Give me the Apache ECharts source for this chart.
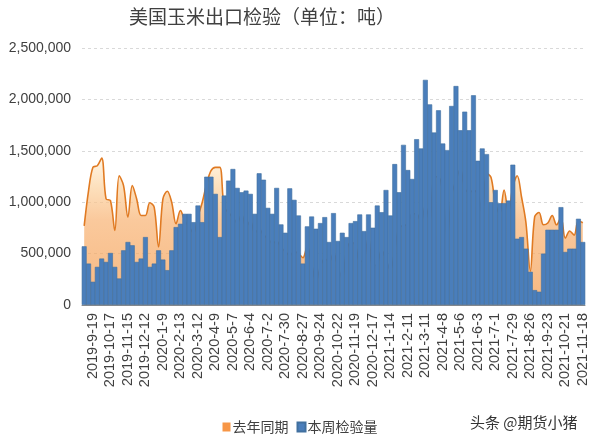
<!DOCTYPE html>
<html>
<head>
<meta charset="utf-8">
<script src="https://cdn.jsdelivr.net/npm/echarts@6/dist/echarts.min.js"></script>
<style>
html,body{margin:0;padding:0;background:#fff;}
#chart{width:600px;height:440px;}
</style>
</head>
<body>
<div id="chart"></div>
<script>
const categories = [
'2019-9-5','2019-9-12','2019-9-19','2019-9-26','2019-10-3','2019-10-10','2019-10-17','2019-10-24','2019-10-31','2019-11-7',
'2019-11-15','2019-11-21','2019-11-28','2019-12-5','2019-12-12','2019-12-19','2019-12-26','2020-1-2','2020-1-9','2020-1-16',
'2020-1-23','2020-1-30','2020-2-13','2020-2-20','2020-2-27','2020-3-5','2020-3-12','2020-3-19','2020-3-26','2020-4-2',
'2020-4-9','2020-4-16','2020-4-23','2020-4-30','2020-5-7','2020-5-14','2020-5-21','2020-5-28','2020-6-4','2020-6-11',
'2020-6-18','2020-6-25','2020-7-2','2020-7-9','2020-7-16','2020-7-23','2020-7-30','2020-8-6','2020-8-13','2020-8-20',
'2020-8-27','2020-9-3','2020-9-10','2020-9-17','2020-9-24','2020-10-1','2020-10-8','2020-10-15','2020-10-22','2020-10-29',
'2020-11-5','2020-11-12','2020-11-19','2020-11-26','2020-12-3','2020-12-10','2020-12-17','2020-12-24','2020-12-31','2021-1-7',
'2021-1-14','2021-1-21','2021-1-28','2021-2-4','2021-2-11','2021-2-18','2021-2-25','2021-3-4','2021-3-11','2021-3-18',
'2021-3-25','2021-4-1','2021-4-8','2021-4-15','2021-4-22','2021-4-29','2021-5-6','2021-5-13','2021-5-20','2021-5-27',
'2021-6-3','2021-6-10','2021-6-17','2021-6-24','2021-7-1','2021-7-8','2021-7-15','2021-7-22','2021-7-29','2021-8-5',
'2021-8-12','2021-8-19','2021-8-26','2021-9-2','2021-9-9','2021-9-16','2021-9-23','2021-9-30','2021-10-7','2021-10-14',
'2021-10-21','2021-10-28','2021-11-4','2021-11-11','2021-11-18'];

// 本周检验量 (tons)
const thisWeek = [
571000,403000,226000,371000,452000,419000,506000,371000,258000,532000,
613000,581000,419000,452000,661000,371000,403000,532000,442000,339000,
532000,758000,790000,887000,887000,806000,968000,806000,1248000,1248000,
1081000,661000,1065000,1210000,1323000,1139000,1097000,1113000,1081000,887000,
1281000,1219000,945000,887000,1139000,784000,703000,1135000,1023000,871000,
403000,765000,861000,742000,797000,855000,613000,894000,623000,703000,
661000,797000,816000,881000,719000,881000,752000,968000,903000,1119000,
871000,1371000,1097000,1558000,1313000,1226000,1613000,1523000,2190000,1952000,
1678000,1894000,1571000,1507000,1936000,2130000,1700000,1881000,1700000,2040000,
1403000,1523000,1468000,1000000,1119000,990000,990000,1016000,1365000,645000,
661000,548000,323000,145000,129000,500000,732000,732000,732000,952000,
516000,548000,548000,839000,613000];

// 去年同期 (tons)
const lastYear = [
770000,1113000,1339000,1355000,1429000,1032000,1016000,726000,1258000,1161000,
855000,1161000,1032000,871000,871000,994000,952000,565000,1032000,1107000,
1000000,790000,919000,820000,760000,700000,860000,1000000,1177000,1306000,
1339000,1339000,950000,900000,850000,800000,880000,760000,820000,700000,
740000,680000,650000,600000,620000,560000,520000,480000,520000,500000,
460000,571000,403000,226000,371000,452000,419000,506000,371000,258000,
532000,613000,581000,419000,452000,661000,371000,403000,532000,442000,
339000,532000,758000,770000,790000,887000,887000,806000,968000,806000,
1248000,1248000,1081000,661000,1065000,1210000,1323000,1139000,1097000,1113000,
1081000,887000,1281000,1242000,990000,887000,1119000,900000,1150000,1258000,
1048000,800000,330000,860000,900000,780000,797000,870000,780000,850000,
650000,720000,680000,820000,800000];

const yTicks = [0, 500000, 1000000, 1500000, 2000000, 2500000];
const titleText = '美国玉米出口检验（单位：吨）';
const seriesNames = ['去年同期', '本周检验量'];
const watermark = '头条 @期货小猪';

const chart = echarts.init(document.getElementById('chart'), null, {renderer: 'canvas'});
const fontCN = '"Noto Sans CJK SC", "Noto Sans", sans-serif';
const fontNum = '"Liberation Sans", Arial, sans-serif';

chart.setOption({
  animation: false,
  backgroundColor: '#ffffff',
  title: {
    text: titleText,
    left: 124, top: 2,
    textStyle: {fontSize: 19, fontWeight: 'normal', color: '#404040', fontFamily: fontCN}
  },
  grid: {left: 82, right: 15, top: 48, bottom: 135, containLabel: false},
  legend: {
    data: [{name: seriesNames[0], icon: 'rect'}, {name: seriesNames[1], icon: 'rect'}],
    left: 'center', top: 415,
    itemWidth: 8, itemHeight: 9, itemGap: 8,
    textStyle: {fontSize: 14, color: '#404040', fontFamily: fontCN, padding: [0,0,0,-3]}
  },
  xAxis: {
    type: 'category',
    data: categories,
    boundaryGap: true,
    axisLine: {show: true, lineStyle: {color: '#8c8c8c', width: 1}},
    axisTick: {show: false},
    axisLabel: {
      rotate: 90,
      interval: function (i) { return (i - 2) % 4 === 0; },
      fontSize: 14.5, color: '#404040', fontFamily: fontNum, margin: 8
    },
    splitLine: {show: false}
  },
  yAxis: {
    type: 'value',
    min: yTicks[0], max: yTicks[yTicks.length - 1], interval: yTicks[1] - yTicks[0],
    axisLine: {show: false},
    axisTick: {show: false},
    axisLabel: {
      formatter: function (v) { return v.toLocaleString('en-US'); },
      fontSize: 14, color: '#404040', fontFamily: fontNum, margin: 11
    },
    splitLine: {show: true, lineStyle: {color: '#d9d9d9', type: [3, 3], width: 1}}
  },
  series: [
    {
      name: seriesNames[0],
      type: 'line',
      data: lastYear,
      smooth: 0.35,
      showSymbol: false,
      symbol: 'none',
      lineStyle: {color: '#e07a22', width: 1.6},
      itemStyle: {color: '#f79646', borderColor: '#c7681c'},
      areaStyle: {
        color: new echarts.graphic.LinearGradient(0, 0, 0, 1, [
          {offset: 0, color: '#fff1d8'},
          {offset: 0.2, color: '#fcd29f'},
          {offset: 0.42, color: '#f8b272'},
          {offset: 1, color: '#f3994a'}
        ])
      },
      z: 1
    },
    {
      name: seriesNames[1],
      type: 'bar',
      data: thisWeek,
      barWidth: '112%',
      itemStyle: {color: '#4a7ebb', borderColor: '#41709f', borderWidth: 0.6},
      z: 2
    }
  ],
  graphic: [{
    type: 'text', left: 470, top: 415,
    style: {text: watermark, fontSize: 15, fill: '#333333', fontFamily: fontCN}
  }]
});
</script>
</body>
</html>
